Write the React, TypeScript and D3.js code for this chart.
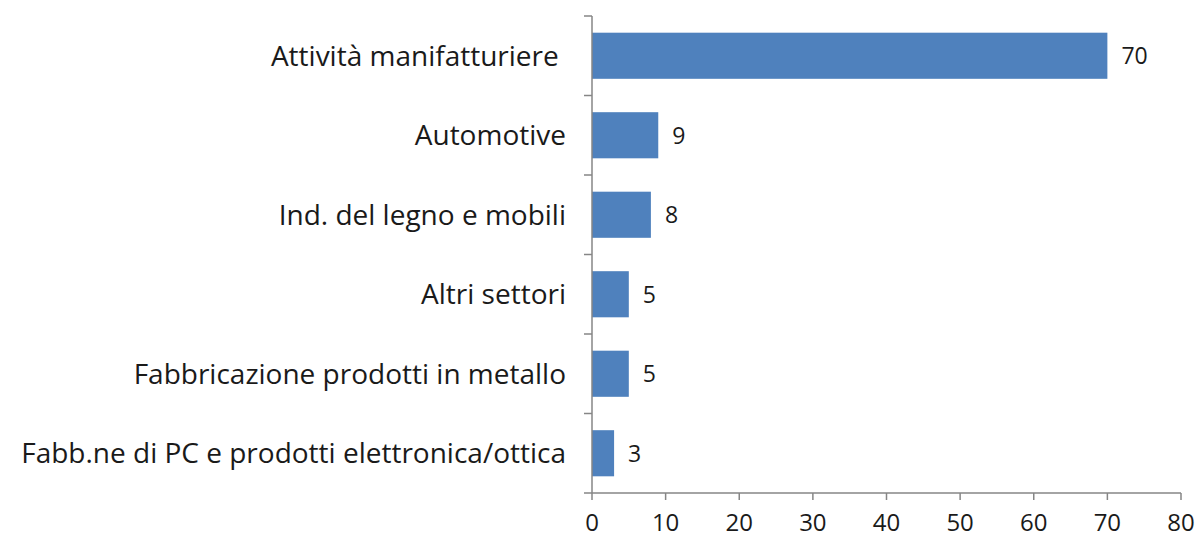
import React from "react";
import * as d3 from "d3";

const categories = [
  "Attività manifatturiere ",
  "Automotive",
  "Ind. del legno e mobili",
  "Altri settori",
  "Fabbricazione prodotti in metallo",
  "Fabb.ne di PC e prodotti elettronica/ottica",
];
const values = [70, 9, 8, 5, 5, 3];
const xTicks = [0, 10, 20, 30, 40, 50, 60, 70, 80];

const W = 1197;
const H = 533;
const FONT = "'Open Sans', 'DejaVu Sans', sans-serif";

export default function App() {
  const x = d3.scaleLinear().domain([0, 80]).range([592, 1181]);
  const y = d3.scaleBand<string>().domain(categories).range([16, 493]).paddingInner(0.42).paddingOuter(0.21);
  const step = y.step();
  const axisColor = "#868686";
  return (
    <svg width={W} height={H} style={{ position: "absolute", left: 0, top: 0, background: "#fff" }}>
      {categories.map((c, i) => (
        <rect key={c} x={x(0)} y={y(c)!} width={x(values[i]) - x(0)} height={y.bandwidth()} fill="#4F81BD" />
      ))}
      <line x1={x(0)} x2={x(0)} y1={16} y2={493} stroke={axisColor} strokeWidth={1.5} />
      {d3.range(categories.length + 1).map((i) => (
        <line key={i} x1={x(0) - 8} x2={x(0)} y1={16 + i * step} y2={16 + i * step} stroke={axisColor} strokeWidth={1.5} />
      ))}
      <line x1={x(0)} x2={x(80)} y1={493} y2={493} stroke={axisColor} strokeWidth={1.5} />
      {xTicks.map((t) => (
        <g key={t}>
          <line x1={x(t)} x2={x(t)} y1={493} y2={500} stroke={axisColor} strokeWidth={1.5} />
          <text x={x(t)} y={531} textAnchor="middle" fontFamily={FONT} fontSize={24} fill="#1a1a1a">{t}</text>
        </g>
      ))}
      {categories.map((c, i) => (
        <text key={c} x={566} y={y(c)! + y.bandwidth() / 2} dy="0.36em" textAnchor="end" fontFamily={FONT} fontSize={28} fill="#1a1a1a" style={{ whiteSpace: "pre" }}>{c}</text>
      ))}
      {categories.map((c, i) => (
        <text key={c} x={x(values[i]) + 14} y={y(c)! + y.bandwidth() / 2} dy="0.36em" fontFamily={FONT} fontSize={23} fill="#1a1a1a">{values[i]}</text>
      ))}
    </svg>
  );
}
